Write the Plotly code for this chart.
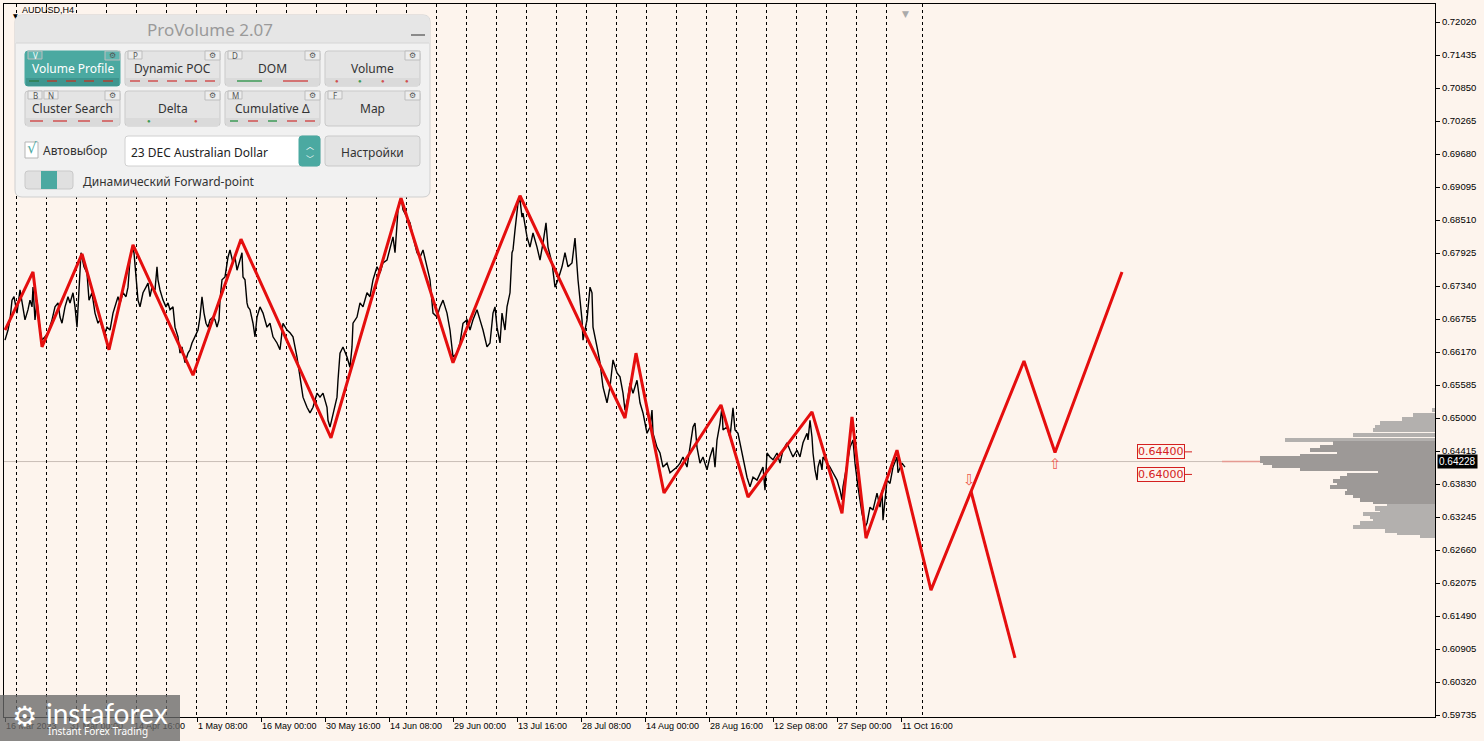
import plotly.graph_objects as go

# ---------------- data ----------------
x_tick_idx = [1, 65, 129, 193, 257, 321, 385, 449, 513, 577, 641, 705, 769, 833, 897]
x_tick_text = ["16 Mar 2023", "31 Mar 00:00", "14 Apr 16:00", "1 May 08:00", "16 May 00:00",
               "30 May 16:00", "14 Jun 08:00", "29 Jun 00:00", "13 Jul 16:00", "28 Jul 08:00",
               "14 Aug 00:00", "28 Aug 16:00", "12 Sep 08:00", "27 Sep 00:00", "11 Oct 16:00"]
week_separators = [12, 42, 72, 102, 132, 162, 192, 222, 252, 282, 312, 342, 372, 402, 432, 462,
                   492, 522, 552, 582, 612, 642, 672, 702, 732, 762, 792, 822, 852, 882, 918]
y_ticks = [0.72020, 0.71435, 0.70850, 0.70265, 0.69680, 0.69095, 0.68510, 0.67925, 0.67340,
           0.66755, 0.66170, 0.65585, 0.65000, 0.64415, 0.63830, 0.63245, 0.62660, 0.62075,
           0.61490, 0.60905, 0.60320, 0.59735]

price_idx = [1, 4, 6, 8, 10, 13, 16, 18, 21, 24, 26, 28, 29, 31, 33, 36, 38, 41, 44, 48, 51, 54, 56, 58,
             61, 64, 66, 69, 71, 73, 75, 76, 77, 78, 80, 83, 85, 88, 91, 94, 96, 99, 101, 103, 106, 109,
             111, 114, 116, 119, 122, 124, 126, 128, 130, 132, 134, 136, 139, 142, 144, 146, 148, 151,
             153, 154, 156, 159, 162, 164, 166, 169, 171, 174, 176, 178, 181, 184, 186, 188, 191, 194,
             196, 198, 200, 202, 204, 206, 209, 211, 213, 215, 216, 218, 221, 224, 226, 229, 231, 233,
             236, 238, 239, 241, 243, 244, 246, 249, 251, 253, 256, 259, 263, 266, 269, 273, 276, 279,
             283, 286, 289, 293, 296, 299, 303, 306, 309, 313, 316, 319, 323, 324, 326, 329, 333, 334,
             336, 339, 343, 346, 348, 349, 353, 356, 359, 363, 366, 369, 373, 376, 379, 383, 386, 389,
             391, 393, 394, 396, 398, 399, 403, 406, 409, 413, 416, 419, 423, 426, 429, 433, 436, 439,
             443, 446, 449, 453, 456, 459, 463, 466, 469, 473, 476, 479, 483, 486, 489, 491, 493, 496,
             498, 501, 503, 506, 508, 509, 511, 513, 514, 516, 518, 519, 523, 526, 529, 533, 536, 539,
             542, 544, 548, 551, 554, 558, 561, 564, 568, 571, 573, 574, 578, 579, 583, 586, 588, 589,
             593, 596, 599, 603, 606, 609, 613, 616, 619, 621, 624, 626, 629, 633, 636, 639, 643, 646,
             648, 649, 653, 656, 659, 663, 666, 669, 673, 676, 679, 683, 686, 689, 691, 693, 696, 699,
             703, 706, 709, 711, 713, 716, 718, 719, 723, 726, 729, 731, 734, 736, 739, 743, 746, 749,
             753, 756, 759, 761, 763, 766, 769, 773, 776, 779, 783, 786, 789, 793, 796, 799, 803, 804,
             806, 808, 809, 811, 813, 814, 816, 818, 819, 823, 826, 829, 833, 836, 838, 839, 843, 846,
             849, 851, 854, 858, 861, 863, 866, 869, 873, 876, 878, 879, 883, 886, 889, 893, 894, 898, 901]
price_val = [0.6638, 0.6656, 0.6674, 0.6709, 0.6715, 0.6686, 0.6727, 0.6704, 0.6674, 0.6692, 0.6709,
             0.6697, 0.6732, 0.6674, 0.6709, 0.6656, 0.6638, 0.6644, 0.6651, 0.6674, 0.6697, 0.6704,
             0.6679, 0.6668, 0.6697, 0.6715, 0.6704, 0.6722, 0.6697, 0.6661, 0.6732, 0.6775, 0.6793,
             0.6785, 0.6768, 0.6757, 0.6709, 0.6722, 0.6686, 0.6668, 0.6674, 0.6656, 0.6651, 0.6661,
             0.6656, 0.6686, 0.6697, 0.6715, 0.6704, 0.6722, 0.6715, 0.6732, 0.6780, 0.6803, 0.6793,
             0.6750, 0.6709, 0.6697, 0.6722, 0.6732, 0.6739, 0.6715, 0.6732, 0.6727, 0.6768, 0.6745,
             0.6727, 0.6709, 0.6697, 0.6704, 0.6692, 0.6697, 0.6661, 0.6644, 0.6615, 0.6626, 0.6598,
             0.6615, 0.6621, 0.6633, 0.6644, 0.6656, 0.6679, 0.6715, 0.6686, 0.6668, 0.6661, 0.6674,
             0.6679, 0.6674, 0.6661, 0.6674, 0.6709, 0.6745, 0.6750, 0.6785, 0.6798, 0.6775, 0.6785,
             0.6762, 0.6780, 0.6793, 0.6750, 0.6745, 0.6704, 0.6697, 0.6692, 0.6668, 0.6644, 0.6679,
             0.6697, 0.6686, 0.6661, 0.6668, 0.6644, 0.6633, 0.6621, 0.6668, 0.6656, 0.6651, 0.6644,
             0.6608, 0.6573, 0.6537, 0.6519, 0.6509, 0.6519, 0.6544, 0.6537, 0.6544, 0.6519, 0.6496,
             0.6484, 0.6509, 0.6537, 0.6567, 0.6615, 0.6626, 0.6608, 0.6590, 0.6626, 0.6668, 0.6679,
             0.6704, 0.6697, 0.6722, 0.6715, 0.6745, 0.6768, 0.6757, 0.6775, 0.6780, 0.6803, 0.6821,
             0.6793, 0.6846, 0.6869, 0.6887, 0.6881, 0.6869, 0.6856, 0.6846, 0.6821, 0.6793, 0.6785,
             0.6798, 0.6768, 0.6745, 0.6686, 0.6679, 0.6697, 0.6709, 0.6686, 0.6656, 0.6608, 0.6615,
             0.6633, 0.6668, 0.6674, 0.6656, 0.6674, 0.6692, 0.6674, 0.6656, 0.6626, 0.6633, 0.6686,
             0.6697, 0.6661, 0.6633, 0.6686, 0.6656, 0.6697, 0.6722, 0.6793, 0.6798, 0.6833, 0.6863,
             0.6881, 0.6887, 0.6856, 0.6863, 0.6821, 0.6803, 0.6828, 0.6803, 0.6780, 0.6810, 0.6846,
             0.6803, 0.6775, 0.6732, 0.6745, 0.6768, 0.6793, 0.6768, 0.6775, 0.6819, 0.6775, 0.6745,
             0.6674, 0.6638, 0.6674, 0.6732, 0.6722, 0.6661, 0.6626, 0.6598, 0.6555, 0.6527, 0.6555,
             0.6603, 0.6580, 0.6573, 0.6544, 0.6514, 0.6537, 0.6562, 0.6544, 0.6567, 0.6527, 0.6509,
             0.6473, 0.6484, 0.6514, 0.6473, 0.6448, 0.6438, 0.6413, 0.6420, 0.6403, 0.6408, 0.6413,
             0.6420, 0.6431, 0.6413, 0.6448, 0.6484, 0.6491, 0.6448, 0.6420, 0.6431, 0.6408, 0.6431,
             0.6448, 0.6413, 0.6461, 0.6491, 0.6520, 0.6479, 0.6484, 0.6466, 0.6518, 0.6479, 0.6473,
             0.6456, 0.6431, 0.6395, 0.6378, 0.6395, 0.6390, 0.6403, 0.6413, 0.6372, 0.6438, 0.6431,
             0.6426, 0.6438, 0.6420, 0.6443, 0.6456, 0.6443, 0.6431, 0.6443, 0.6431, 0.6456, 0.6473,
             0.6461, 0.6496, 0.6466, 0.6438, 0.6408, 0.6390, 0.6413, 0.6426, 0.6408, 0.6431, 0.6420,
             0.6413, 0.6403, 0.6390, 0.6372, 0.6355, 0.6378, 0.6420, 0.6448, 0.6461, 0.6420, 0.6378,
             0.6331, 0.6306, 0.6314, 0.6342, 0.6337, 0.6367, 0.6342, 0.6372, 0.6319, 0.6390, 0.6384,
             0.6413, 0.6431, 0.6403, 0.6420, 0.6413]

zigzag_idx = [1, 29, 38, 78, 105, 129, 189, 237, 327, 397, 449, 516, 621, 632, 660, 717, 744, 808,
              838, 848, 862, 893, 927, 1020, 1051, 1118]
zigzag_val = [0.6656, 0.6759, 0.6626, 0.6791, 0.6621, 0.6807, 0.6576, 0.6817, 0.6465, 0.6890, 0.6598,
              0.6894, 0.6500, 0.6615, 0.6367, 0.6523, 0.6360, 0.6511, 0.6331, 0.6502, 0.6287, 0.6443,
              0.6195, 0.6601, 0.6439, 0.6759]
branch_idx = [967, 1011]
branch_val = [0.6370, 0.6075]

current_price = 0.64228
level_prices = [0.64400, 0.64000]
arrow_down = (965, 0.6390)
arrow_up = (1051, 0.6418)

vp_light_price = [0.6514, 0.6505, 0.6497, 0.6491, 0.6484, 0.6479, 0.6470, 0.6461,
                  0.6346, 0.6340, 0.6335, 0.6330, 0.6325, 0.6319, 0.6314, 0.6307, 0.6301, 0.6296, 0.6291]
vp_light_vol = [3, 22, 33, 55, 60, 62, 82, 150, 48, 60, 55, 72, 65, 62, 75, 82, 50, 38, 15]
vp_dark_price = [0.6456, 0.6449, 0.6443, 0.6438, 0.6433, 0.6429, 0.6424, 0.6420, 0.6415, 0.6410,
                 0.6404, 0.6399, 0.6393, 0.6388, 0.6383, 0.6378, 0.6372, 0.6367, 0.6362, 0.6356, 0.6351]
vp_dark_vol = [102, 115, 125, 98, 135, 175, 175, 172, 163, 135, 57, 88, 95, 102, 98, 105, 88, 90,
               82, 75, 62]
poc_len = 213

# ---------------- layout helpers ----------------
W, H = 1484, 741
ML, MR, MT, MB = 4, 49, 4, 24
PW, PH = W - ML - MR, H - MT - MB
XMAX = 1431
BG = "#FDF4ED"
TEAL = "#4BA9A1"
RED = "#E50E0E"


def X(px):
    return (px - ML) / PW


def Y(py):
    return 1 - (py - MT) / PH


shapes = []
annots = []


def rect(x0, y0, x1, y1, fill, line="rgba(0,0,0,0)", lw=1, r=0):
    if r <= 0:
        shapes.append(dict(type="rect", xref="paper", yref="paper", x0=X(x0), x1=X(x1),
                           y0=Y(y1), y1=Y(y0), fillcolor=fill, line=dict(color=line, width=lw),
                           layer="above"))
        return
    p = (f"M {X(x0+r)},{Y(y0)} L {X(x1-r)},{Y(y0)} Q {X(x1)},{Y(y0)} {X(x1)},{Y(y0+r)} "
         f"L {X(x1)},{Y(y1-r)} Q {X(x1)},{Y(y1)} {X(x1-r)},{Y(y1)} L {X(x0+r)},{Y(y1)} "
         f"Q {X(x0)},{Y(y1)} {X(x0)},{Y(y1-r)} L {X(x0)},{Y(y0+r)} Q {X(x0)},{Y(y0)} {X(x0+r)},{Y(y0)} Z")
    shapes.append(dict(type="path", xref="paper", yref="paper", path=p, fillcolor=fill,
                       line=dict(color=line, width=lw), layer="above"))


def hline(x0, x1, y, color, w=1.5):
    shapes.append(dict(type="line", xref="paper", yref="paper", x0=X(x0), x1=X(x1), y0=Y(y), y1=Y(y),
                       line=dict(color=color, width=w), layer="above"))


def text(px, py, s, size=12, color="#333333", anchor="center", family="Noto Sans"):
    annots.append(dict(xref="paper", yref="paper", x=X(px), y=Y(py), text=s, showarrow=False,
                       xanchor=anchor, yanchor="middle", font=dict(size=size, color=color, family=family)))


def dot(px, py, color):
    text(px, py, "●", 6, color)


# ---------------- figure ----------------
fig = go.Figure()

fig.add_trace(go.Bar(orientation="h", y=vp_light_price, x=[-v for v in vp_light_vol], base=XMAX,
                     width=0.0008, marker=dict(color="#B3B0AE", line=dict(width=0)), hoverinfo="skip"))
fig.add_trace(go.Bar(orientation="h", y=vp_dark_price, x=[-v for v in vp_dark_vol], base=XMAX,
                     width=0.0008, marker=dict(color="#9D9997", line=dict(width=0)), hoverinfo="skip"))
fig.add_trace(go.Scatter(x=price_idx, y=price_val, mode="lines", line=dict(color="black", width=1.4),
                         hoverinfo="skip"))
fig.add_trace(go.Scatter(x=zigzag_idx, y=zigzag_val, mode="lines", line=dict(color=RED, width=3),
                         hoverinfo="skip"))
fig.add_trace(go.Scatter(x=branch_idx, y=branch_val, mode="lines", line=dict(color=RED, width=3),
                         hoverinfo="skip"))

# current price line and POC
fig.add_shape(type="line", xref="paper", yref="y", x0=0, x1=1, y0=current_price, y1=current_price,
              line=dict(color="#C9BDB6", width=1), layer="below")
fig.add_shape(type="line", xref="x", yref="y", x0=XMAX - poc_len, x1=XMAX - 175, y0=current_price,
              y1=current_price, line=dict(color="#E59A92", width=1.5))

# level labels
for lp in level_prices:
    fig.add_annotation(x=1157, y=lp, xref="x", yref="y", text=f"{lp:.5f}", showarrow=False,
                       font=dict(family="DejaVu Sans", size=11, color="#D42020"), bgcolor=BG,
                       bordercolor="#D42020", borderwidth=1, borderpad=0)
    fig.add_shape(type="line", xref="x", yref="y", x0=1179, x1=1188, y0=lp, y1=lp,
                  line=dict(color="#D42020", width=1))

fig.add_annotation(x=arrow_down[0], y=arrow_down[1], text="⇩", showarrow=False,
                   font=dict(family="DejaVu Sans", size=15, color="#EE5A4E"))
fig.add_annotation(x=arrow_up[0], y=arrow_up[1], text="⇧", showarrow=False,
                   font=dict(family="DejaVu Sans", size=15, color="#EE5A4E"))

# current price box on axis
fig.add_annotation(xref="paper", yref="y", x=1.0, y=current_price, xanchor="left", xshift=2,
                   text="0.64228", showarrow=False, bgcolor="black",
                   font=dict(family="Liberation Sans", size=10, color="white"), borderpad=1)

# ---------------- ProVolume panel ----------------
rect(15, 15, 430, 197, "#F1F1F1", "#CFCFCF", 1, r=7)
rect(15, 15, 430, 43, "#E6E6E6", "rgba(0,0,0,0)", 0, r=7)
rect(15, 32, 430, 43, "#E6E6E6")
hline(16, 429, 43, "#D6D6D6", 1)
text(210, 29, "ProVolume 2.07", 17, "#9A9A9A")
hline(411, 425, 35, "#8A8A8A", 2)

buttons = [
    (25, 51, "Volume Profile", True, ["V"]),
    (125, 51, "Dynamic POC", False, ["P"]),
    (225, 51, "DOM", False, ["D"]),
    (325, 51, "Volume", False, []),
    (25, 91, "Cluster Search", False, ["B", "N"]),
    (125, 91, "Delta", False, []),
    (225, 91, "Cumulative Δ", False, ["M"]),
    (325, 91, "Map", False, ["F"]),
]
for bx, by, label, active, tags in buttons:
    fill = TEAL if active else "#E4E4E4"
    rect(bx, by, bx + 95, by + 35, fill, "#C9C9C9" if not active else TEAL, 1, r=3)
    if label != "Map":
        rect(bx + 1, by + 27, bx + 94, by + 35, "#3E968F" if active else "#DADADA")
    for k, t in enumerate(tags):
        tx = bx + 3 + k * 16
        rect(tx, by, tx + 14, by + 8, "#5FB6AF" if active else "#EDEDED", "#BDBDBD", 1)
        text(tx + 7, by + 4.5, t, 8, "white" if active else "#555555")
    rect(bx + 80, by, bx + 95, by + 9, "#5FB6AF" if active else "#EDEDED", "#BDBDBD", 1)
    text(bx + 87.5, by + 4.5, "⚙", 8, "#555555", family="DejaVu Sans")
    text(bx + 47.5, by + 17, label, 12, "white" if active else "#333333")

# indicator strips
for x0, x1, c in [(29, 39, "#2E7D4A"), (47, 57, "#B04030"), (66, 76, "#B04030"), (84, 94, "#B04030"),
                  (103, 113, "#B04030")]:
    hline(x0, x1, 81, c, 1.5)
for x0, x1 in [(130, 140), (148, 158), (167, 177), (185, 197), (205, 215)]:
    hline(x0, x1, 81, "#D05050", 1.5)
hline(237, 262, 81, "#3C9A56", 1.5)
hline(283, 308, 81, "#D05050", 1.5)
for px_, c in [(337, "#D05050"), (360, "#3C9A56"), (383, "#D05050"), (407, "#D05050")]:
    dot(px_, 81, c)
for x0, x1 in [(30, 43), (53, 67), (78, 90), (102, 113)]:
    hline(x0, x1, 121, "#D05050", 1.5)
dot(149, 121, "#3C9A56")
dot(196, 121, "#D05050")
for x0, x1, c in [(230, 238, "#3C9A56"), (248, 258, "#D05050"), (268, 277, "#3C9A56"),
                  (287, 297, "#D05050"), (305, 315, "#D05050")]:
    hline(x0, x1, 121, c, 1.5)

# row 3
rect(25, 142, 38, 158, "white", "#B5B5B5", 1)
text(32, 148, "√", 15, TEAL, family="DejaVu Sans")
text(41, 150, "Автовыбор", 12, "#333333", "left")
rect(125, 136, 320, 166, "white", "#D0D0D0", 1, r=3)
rect(299, 136, 320, 166, TEAL, TEAL, 1, r=3)
text(310, 145, "︿", 8, "white", family="Noto Sans CJK SC")
text(310, 158, "﹀", 8, "white", family="Noto Sans CJK SC")
text(129, 152, "23 DEC Australian Dollar", 12, "#222222", "left")
rect(325, 136, 420, 166, "#E4E4E4", "#C9C9C9", 1, r=3)
text(372, 152, "Настройки", 12, "#333333")

# row 4
rect(25, 171, 73, 189, "#E0E0E0", "#C9C9C9", 1, r=3)
rect(41, 171, 57, 189, TEAL)
text(81, 181, "Динамический Forward-point", 12, "#333333", "left")

# top-left symbol text
annots.append(dict(xref="paper", yref="paper", x=X(20), y=Y(10), text="AUDUSD,H4", showarrow=False,
                   xanchor="left", yanchor="middle", font=dict(size=9, color="black", family="Liberation Sans")))
annots.append(dict(xref="paper", yref="paper", x=X(11), y=Y(10), text="▼", showarrow=False,
                   font=dict(size=6, color="black", family="DejaVu Sans")))
annots.append(dict(xref="paper", yref="paper", x=X(905), y=Y(7), text="▼", showarrow=False,
                   font=dict(size=9, color="#AAAAAA", family="DejaVu Sans")))

# instaforex logo
rect(0, 695, 180, 741, "rgba(105,105,105,0.78)")
text(24, 716, "⚙", 28, "white", family="DejaVu Sans")
text(107, 713, "instaforex", 28, "white", family="Lato")
text(98, 731, "Instant Forex Trading", 10, "white", family="Noto Sans")

fig.update_layout(
    width=W, height=H,
    margin=dict(l=ML, r=MR, t=MT, b=MB),
    paper_bgcolor=BG, plot_bgcolor=BG,
    showlegend=False, barmode="overlay", bargap=0,
    shapes=list(fig.layout.shapes) + shapes,
    annotations=list(fig.layout.annotations) + annots,
    xaxis=dict(range=[0, XMAX], tickmode="array", tickvals=x_tick_idx, ticktext=x_tick_text,
               ticks="outside", ticklen=4, tickcolor="black", ticklabelposition="outside right",
               tickfont=dict(family="Liberation Sans", size=9, color="black"),
               showgrid=False, zeroline=False, showline=True, linecolor="black", linewidth=1,
               mirror=True, automargin=False,
               minor=dict(tickmode="array", tickvals=week_separators, showgrid=True,
                          gridcolor="black", griddash="3px,3px", gridwidth=1, ticks="")),
    yaxis=dict(range=[0.59700, 0.72339], side="right", tickmode="array", tickvals=y_ticks,
               ticktext=[f"{v:.5f}" for v in y_ticks], ticks="outside", ticklen=4, tickcolor="black",
               tickfont=dict(family="Liberation Sans", size=9.5, color="black"),
               showgrid=False, zeroline=False, showline=True, linecolor="black", linewidth=1,
               mirror=True, automargin=False),
)

fig.write_html("out.html", config={"displayModeBar": False},
               post_script="document.body.style.margin='0';document.body.style.overflow='hidden';")
